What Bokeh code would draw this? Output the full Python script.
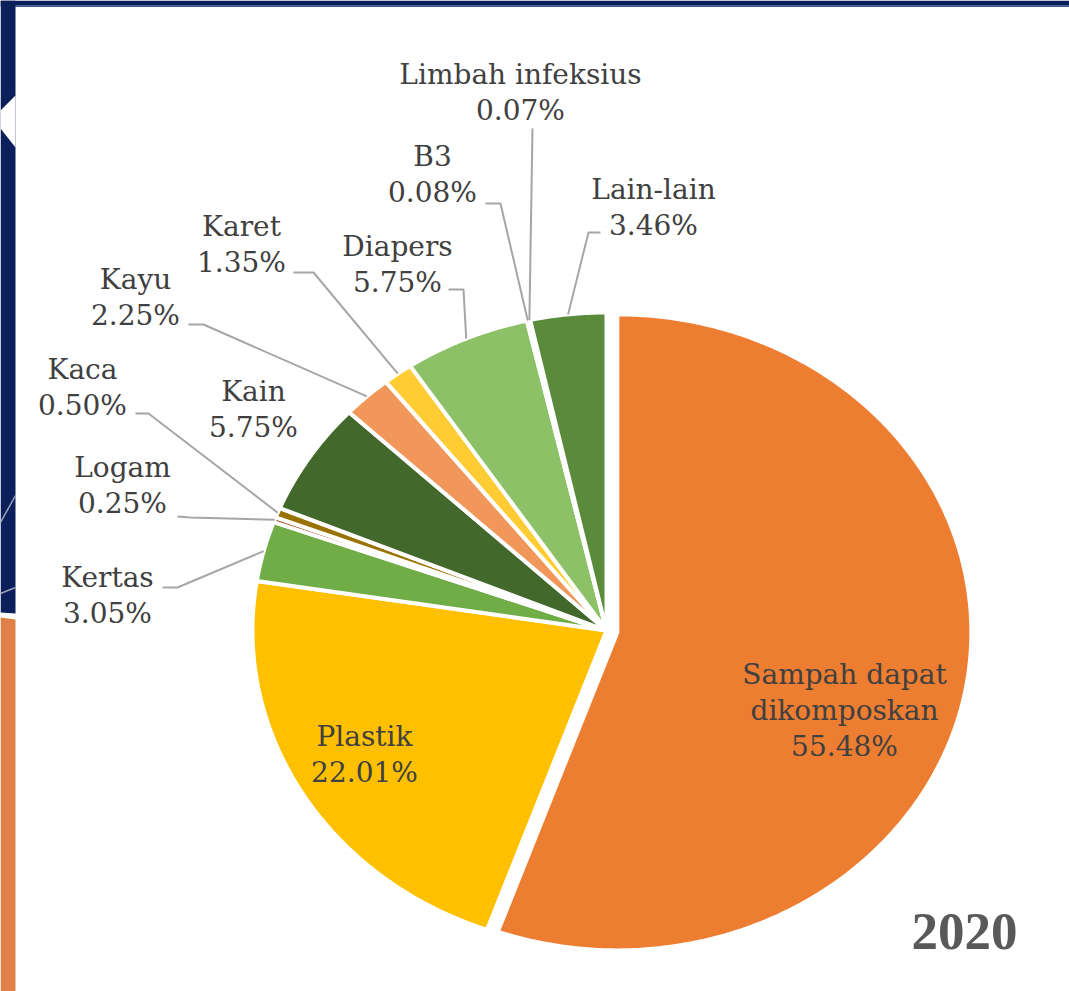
import math
from bokeh.plotting import figure
from bokeh.models import Range1d, ColumnDataSource
from bokeh.core.properties import value
from bokeh.embed import file_html
from bokeh.resources import INLINE

# ---------------- data ----------------
categories = ["Sampah dapat dikomposkan", "Plastik", "Kertas", "Logam", "Kaca", "Kain",
              "Kayu", "Karet", "Diapers", "B3", "Limbah infeksius", "Lain-lain"]
percent = [55.48, 22.01, 3.05, 0.25, 0.50, 5.75, 2.25, 1.35, 5.75, 0.08, 0.07, 3.46]
name_lines = [["Sampah dapat", "dikomposkan"], ["Plastik"], ["Kertas"], ["Logam"], ["Kaca"],
              ["Kain"], ["Kayu"], ["Karet"], ["Diapers"], ["B3"], ["Limbah infeksius"], ["Lain-lain"]]
year_label = "2020"

# ---------------- styles / layout ----------------
colors = ["#ED7D31", "#FFC000", "#70AD47", "#9E480E", "#997300", "#43682B",
          "#F1975A", "#FFCD33", "#8CC168", "#D26012", "#CC9A00", "#5A8B3B"]
explode = [11, 0, 0, 0, 0, 0, 0, 0, 0, 0, 0, 0]
CX, CY, RX, RY = 606.0, 630.0, 354.0, 318.0
# label anchor: (center x, y of last line)
label_anchor = [(844, 746), (364, 772), (107, 613), (122, 503), (82, 405), (253, 427),
                (135, 315), (241, 262), (397, 282), (432, 192), (520, 110), (653, 225)]
LINE_STEP = 36
# leader line start points (before reaching slice); None = no leader
leader_start = [None, None, [(162, 587), (177, 587)], [(177, 516), (190, 517)],
                [(135, 413), (148, 413)], None, [(188, 324), (203, 324)],
                [(293, 272), (313, 272)], [(448, 289), (463, 289)],
                [(485, 203), (500, 203)], [(532, 128)], [(600, 232), (588, 232)]]
LABEL_FONT = "DejaVu Serif"
YEAR_FONT = "'Liberation Serif', 'Times New Roman', serif"

W, H = 1069, 991

p = figure(width=W, height=H, output_backend="svg", toolbar_location=None,
           x_range=Range1d(0, W), y_range=Range1d(H, 0),
           x_axis_location=None, y_axis_location=None, min_border=0,
           background_fill_color="white", border_fill_color="white")
p.outline_line_color = None
p.grid.visible = False

# ---- slide decoration ----
p.patches(xs=[[0, W, W, 0], [0, W, W, 0], [0, 15, 15, 0], [15, 0, 0, 15], [0, 15, 15, 0]],
          ys=[[5, 5, 6.5, 6.5], [0, 0, 5, 5], [0, 0, 613, 612], [95, 110, 128, 147],
              [617, 619, 1000, 1000]],
          fill_color=["#3D5A8A", "#0B1F5B", "#0B1F5B", "#FFFFFF", "#DF8046"], line_color=None)
p.multi_line(xs=[[0, 15], [0, 15]], ys=[[522, 495], [593, 587]],
             line_color="#9AA3B8", line_width=1.5)

# ---- pie slices (elliptical) ----
total = sum(percent)
xs, ys, mids = [], [], []
cum = 0.0
for i, v in enumerate(percent):
    a0 = 360.0 * cum / total
    a1 = 360.0 * (cum + v) / total
    cum += v
    am = math.radians((a0 + a1) / 2)
    mids.append(am)
    ox = explode[i] * math.sin(am)
    oy = -explode[i] * math.cos(am)
    n = max(2, int((a1 - a0) / 0.5) + 1)
    px = [CX + ox]
    py = [CY + oy]
    for k in range(n + 1):
        t = math.radians(a0 + (a1 - a0) * k / n)
        px.append(CX + ox + RX * math.sin(t))
        py.append(CY + oy - RY * math.cos(t))
    xs.append(px)
    ys.append(py)

p.patches(xs=xs, ys=ys, fill_color=colors, line_color="white", line_width=4,
          line_join="round")

# ---- leader lines ----
lx, ly = [], []
for i, st in enumerate(leader_start):
    if st is None:
        continue
    am = mids[i]
    ex = CX + RX * math.sin(am)
    ey = CY - RY * math.cos(am)
    lx.append([pt[0] for pt in st] + [ex])
    ly.append([pt[1] for pt in st] + [ey])
p.multi_line(xs=lx, ys=ly, line_color="#A6A6A6", line_width=2)

# ---- labels ----
tx, ty, tt = [], [], []
for i, cat in enumerate(categories):
    rows = name_lines[i] + [f"{percent[i]:.2f}%"]
    ax, ay = label_anchor[i]
    nrow = len(rows)
    for j, r in enumerate(rows):
        tx.append(ax)
        ty.append(ay - (nrow - 1 - j) * LINE_STEP)
        tt.append(r)
src = ColumnDataSource(dict(x=tx, y=ty, text=tt))
p.text(x="x", y="y", text="text", source=src, text_font=value(LABEL_FONT),
       text_font_size=value("28px"), text_align="center", text_baseline="alphabetic",
       text_color="#404040")

p.text(x=[964], y=[931], text=[year_label], text_font=value(YEAR_FONT),
       text_font_size=value("53px"), text_font_style="bold", text_align="center",
       text_baseline="alphabetic", text_color="#595959")

open("out.html", "w").write(file_html(p, INLINE))
